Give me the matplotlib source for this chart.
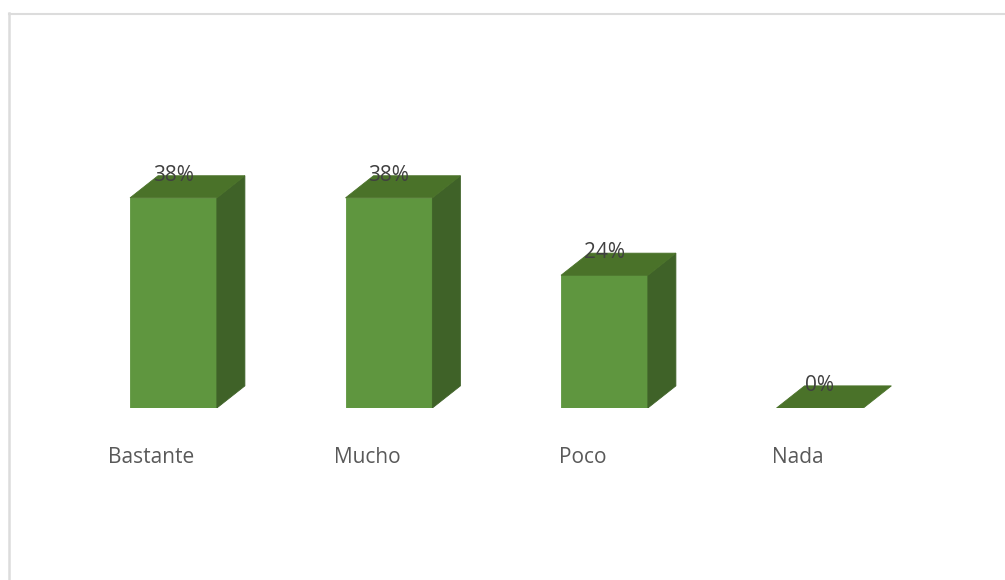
"""Recreate the 3D-look column chart of survey answers."""

import matplotlib

matplotlib.use("Agg")

import matplotlib.pyplot as plt
from matplotlib.lines import Line2D

categories = ["Bastante", "Mucho", "Poco", "Nada"]
values = [38, 38, 24, 0]

FRONT = "#5f963f"
TOP = "#4a7229"
SIDE = "#3f6228"
TEXT = "#595959"
FRAME = "#dcdcdc"

BAR_WIDTH = 0.403
DEPTH_X = 0.130
DEPTH_Y = 4.0

plt.rcParams["font.family"] = ["Open Sans", "DejaVu Sans"]

fig = plt.figure(figsize=(10.05, 5.8), dpi=100)
ax = fig.add_axes([65.7 / 1005, (580 - 408) / 580, 862 / 1005, 276.5 / 580])
ax.set_xlim(-0.5, 3.5)
ax.set_ylim(0, 50)
ax.patch.set_alpha(0)
for spine in ax.spines.values():
    spine.set_visible(False)
ax.set_yticks([])

for i, value in enumerate(values):
    left = i - BAR_WIDTH / 2
    right = i + BAR_WIDTH / 2
    if value > 0:
        ax.fill([left, right, right, left], [0, 0, value, value],
                color=FRONT, lw=0.6, zorder=2)
        ax.fill([right, right + DEPTH_X, right + DEPTH_X, right],
                [0, DEPTH_Y, value + DEPTH_Y, value],
                color=SIDE, lw=0.6, zorder=2)
    ax.fill([left, right, right + DEPTH_X, left + DEPTH_X],
            [value, value, value + DEPTH_Y, value + DEPTH_Y],
            color=TOP, lw=0.6, zorder=2)
    ax.text(i, value + DEPTH_Y + 0.1, f"{value}%", ha="center", va="center",
            fontsize=15, color="#404040", zorder=3)

# The category labels sit a little left of their columns in the original.
ax.set_xticks([i - 0.102 for i in range(len(categories))])
ax.set_xticklabels(categories, fontsize=15, color=TEXT)
ax.tick_params(axis="x", length=0, pad=28)

fig.add_artist(Line2D([9 / 1005, 9 / 1005], [0, 1 - 13 / 580],
                      color=FRAME, lw=1.8))
fig.add_artist(Line2D([9 / 1005, 1], [1 - 13.5 / 580, 1 - 13.5 / 580],
                      color=FRAME, lw=1.5))

fig.savefig("out.png", dpi=100)
plt.close(fig)
